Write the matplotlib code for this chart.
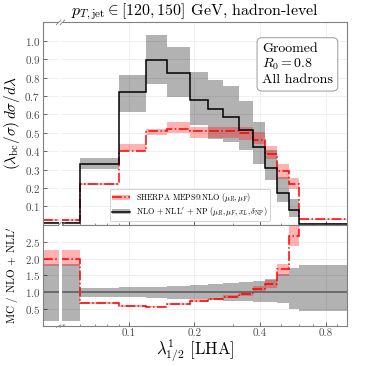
import matplotlib
matplotlib.use("Agg")
import matplotlib.pyplot as plt
from matplotlib.patches import Patch
from matplotlib.lines import Line2D

plt.rcParams['font.family'] = 'serif'
plt.rcParams['font.serif'] = ['cmr10', 'DejaVu Serif']
plt.rcParams['mathtext.fontset'] = 'cm'
plt.rcParams['axes.formatter.use_mathtext'] = True

# bin edges: underflow, regular bins, overflow
edges = [0.0406, 0.06, 0.09, 0.12, 0.15, 0.19, 0.23, 0.27, 0.32, 0.37, 0.42, 0.48, 0.54, 0.60, 1.0]

# NLO + NLL' + NP
nll = [0.011, 0.330, 0.721, 0.897, 0.824, 0.680, 0.627, 0.587, 0.517, 0.421, 0.310, 0.174, 0.082, 0.006]
nll_lo = [0.008, 0.301, 0.613, 0.767, 0.694, 0.545, 0.465, 0.450, 0.404, 0.332, 0.241, 0.123, 0.042, 0.003]
nll_hi = [0.014, 0.365, 0.814, 1.033, 0.968, 0.830, 0.785, 0.754, 0.672, 0.558, 0.404, 0.259, 0.140, 0.010]

# SHERPA MEPS@NLO
sherpa = [0.026, 0.222, 0.400, 0.508, 0.522, 0.512, 0.508, 0.508, 0.500, 0.462, 0.387, 0.295, 0.220, 0.030]
sherpa_lo = [0.022, 0.215, 0.400, 0.490, 0.500, 0.470, 0.470, 0.470, 0.460, 0.440, 0.360, 0.250, 0.196, 0.027]
sherpa_hi = [0.030, 0.228, 0.440, 0.520, 0.560, 0.530, 0.530, 0.530, 0.530, 0.504, 0.430, 0.330, 0.255, 0.033]

# ratio panel
ratio_nll_lo = [0.15, 0.87, 0.85, 0.83, 0.81, 0.79, 0.77, 0.75, 0.73, 0.72, 0.70, 0.68, 0.52, 0.45]
ratio_nll_hi = [1.85, 1.12, 1.15, 1.17, 1.19, 1.21, 1.24, 1.27, 1.30, 1.33, 1.40, 1.55, 1.72, 1.82]
ratio_mc = [1.99, 0.68, 0.59, 0.58, 0.66, 0.75, 0.80, 0.87, 0.96, 1.10, 1.25, 1.69, 2.67, 5.0]
ratio_mc_lo = [1.78, 0.66, 0.58, 0.56, 0.62, 0.71, 0.76, 0.82, 0.90, 1.02, 1.14, 1.47, 2.37, 4.5]
ratio_mc_hi = [2.24, 0.70, 0.63, 0.60, 0.69, 0.79, 0.84, 0.91, 1.02, 1.19, 1.37, 1.84, 3.10, 5.5]

xticks = [0.1, 0.2, 0.4, 0.8]
break_x = 0.0488

fig = plt.figure(figsize=(3.66, 3.66), dpi=100)
gs = fig.add_gridspec(2, 1, height_ratios=[2, 1], hspace=0,
                      left=0.118, right=0.948, top=0.939, bottom=0.109)
ax = fig.add_subplot(gs[0])
rax = fig.add_subplot(gs[1], sharex=ax)

spine_col = '0.5'
for a in (ax, rax):
    a.set_xscale('log')
    a.set_xlim(edges[0], edges[-1])
    a.grid(True, color='0.93', lw=0.6)
    a.set_axisbelow(True)
    for s in a.spines.values():
        s.set_color(spine_col)
        s.set_linewidth(0.8)
    a.tick_params(direction='in', colors='0.3', labelsize=8, length=3, width=0.6, pad=2)
    a.tick_params(which='minor', direction='in', length=1.5, width=0.5, colors='0.4')

# main panel
ax.stairs(nll_hi, edges, baseline=nll_lo, fill=True, color='k', alpha=0.3, lw=0)
ax.stairs(sherpa_hi, edges, baseline=sherpa_lo, fill=True, color='red', alpha=0.3, lw=0)
ax.stairs(sherpa, edges, baseline=None, color='red', lw=1.1, ls='-.')
ax.stairs(nll, edges, baseline=None, color='k', lw=1.1)
ax.set_ylim(0, 1.1)
ax.set_yticks([0.1, 0.2, 0.3, 0.4, 0.5, 0.6, 0.7, 0.8, 0.9, 1.0])
ax.set_ylabel(r'$(\lambda_{\rm bc}/\sigma)\, d\sigma/d\lambda$', fontsize=11, labelpad=2)
ax.tick_params(labelbottom=False)
ax.set_title(r'$p_{T,\mathrm{jet}} \in [120, 150]$ GeV, hadron-level', fontsize=11.5, pad=3)

ax.text(0.72, 0.9, 'Groomed\n$R_0 = 0.8$\nAll hadrons', transform=ax.transAxes,
        fontsize=10, va='top', ha='left', linespacing=1.2,
        bbox=dict(boxstyle='round,pad=0.35', fc='white', ec='0.6', lw=0.7))

h_mc = (Patch(color='red', alpha=0.3, lw=0), Line2D([], [], color='red', lw=1.1, ls='-.'))
h_nll = (Patch(color='k', alpha=0.3, lw=0), Line2D([], [], color='k', lw=1.1))
leg = ax.legend([h_mc, h_nll],
                [r'SHERPA MEPS@NLO ($\mu_R, \mu_F$)',
                 r"NLO + NLL$'$ + NP ($\mu_R, \mu_F, x_L, \delta_{\rm NP}$)"],
                loc='lower center', bbox_to_anchor=(0.483, 0.0), fontsize=5.8,
                frameon=True, fancybox=True, edgecolor='0.75', handlelength=2.2,
                handleheight=0.6, borderpad=0.3, labelspacing=0.15)
leg.get_frame().set_linewidth(0.6)

# ratio panel
rax.stairs(ratio_nll_hi, edges, baseline=ratio_nll_lo, fill=True, color='k', alpha=0.3, lw=0)
rax.stairs(ratio_mc_hi, edges, baseline=ratio_mc_lo, fill=True, color='red', alpha=0.3, lw=0)
rax.axhline(1.0, color='0.4', lw=1.3)
rax.stairs(ratio_mc, edges, baseline=None, color='red', lw=1.1, ls='-.')
rax.set_ylim(0, 3.0)
rax.set_yticks([0.5, 1.0, 1.5, 2.0, 2.5])
rax.set_ylabel(r"MC / NLO + NLL$'$", fontsize=8, labelpad=2)
rax.set_xticks(xticks)
rax.set_xticklabels([str(t) for t in xticks])
rax.set_xlabel(r'$\lambda^1_{1/2}$ [LHA]', fontsize=12, labelpad=0)

# axis break in the underflow bin
for a in (ax, rax):
    a.axvspan(break_x * 0.985, break_x * 1.015, color='white', lw=0, zorder=5)
for a, ys in ((ax, (0.0, 1.0)), (rax, (0.0,))):
    for yb in ys:
        for dx in (-0.02, 0.02):
            xb = break_x * (1 + dx)
            a.plot([xb * 0.975, xb * 1.025], [yb - 0.012, yb + 0.012], color=spine_col,
                   lw=0.6, transform=a.get_xaxis_transform(), clip_on=False, zorder=6)

fig.align_ylabels([ax, rax])
fig.savefig('out.png', dpi=100)
